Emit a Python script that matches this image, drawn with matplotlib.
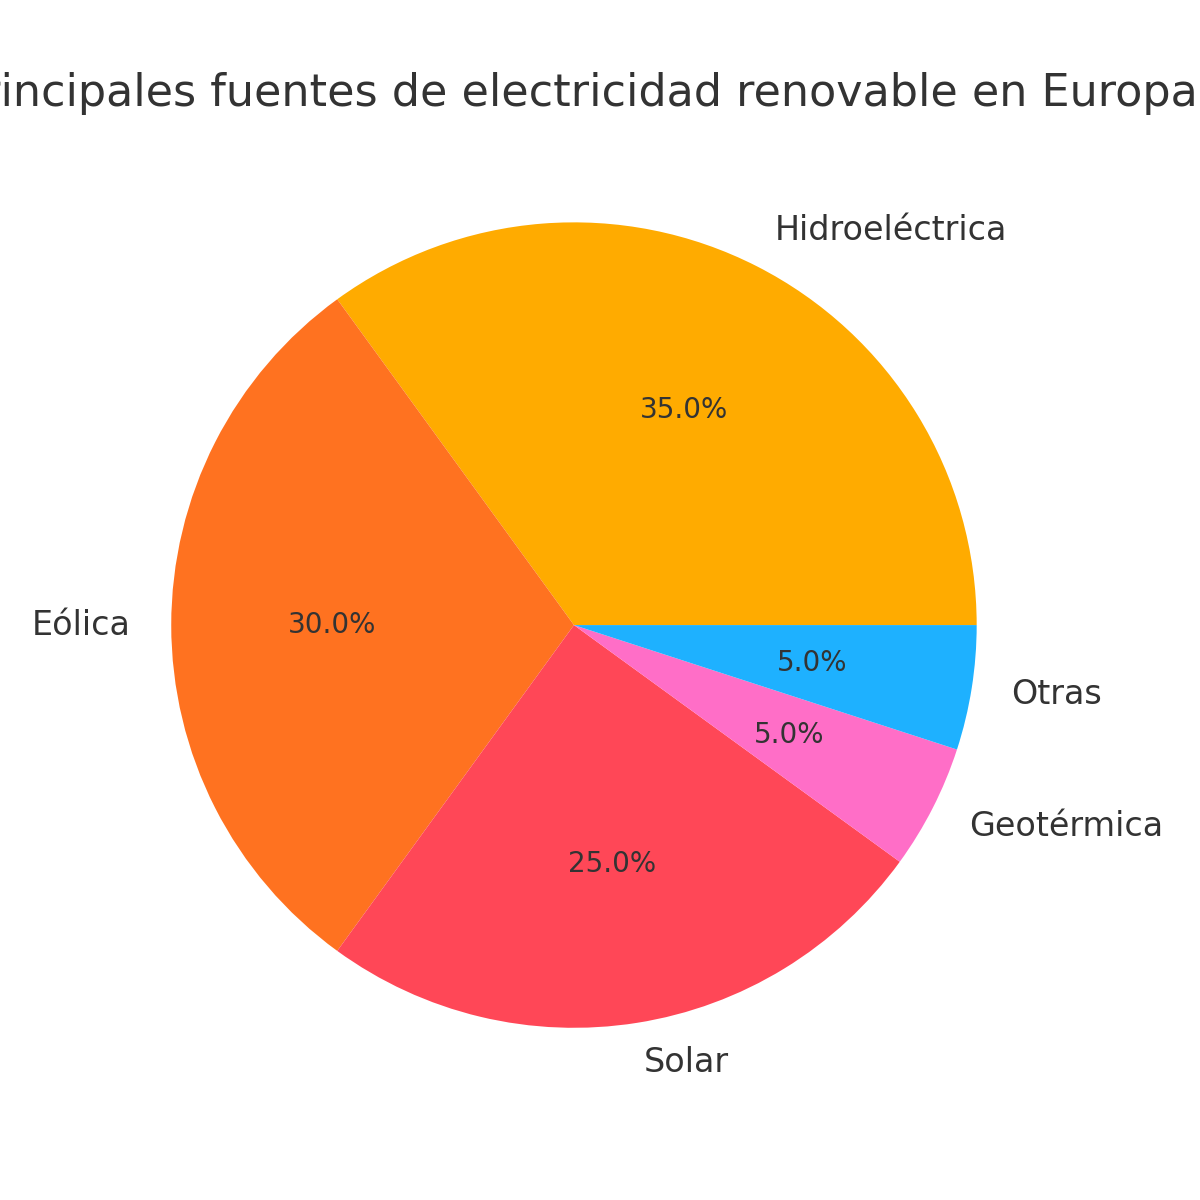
import matplotlib.pyplot as plt

fuentes = ["Hidroeléctrica", "Eólica", "Solar", "Geotérmica", "Otras"]
porcentajes = [35, 30, 25, 5, 5]
colores = ["#FFAB00", "#FF7220", "#FF4757", "#FF6EC7", "#1EB1FF"]

fig = plt.figure(figsize=(12, 12), dpi=100)
ax = fig.add_axes([0.0588, 0.0596, 0.839, 0.839])

wedges, textos, autotextos = ax.pie(porcentajes, labels=fuentes, colors=colores,
                                    autopct="%1.1f%%", startangle=0,
                                    textprops={"color": "#333333", "fontsize": 24})
for t in autotextos:
    t.set_fontsize(20)
ax.set_aspect("equal")

fig.text(0.481, 0.912, "Principales fuentes de electricidad renovable en Europa",
         ha="center", va="baseline", fontsize=32, color="#333333")

fig.savefig("out.png", dpi=100)
